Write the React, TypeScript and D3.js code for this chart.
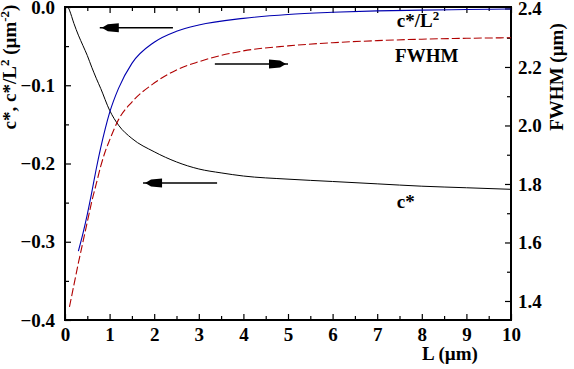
import * as d3 from 'd3';
import { useEffect, useRef } from 'react';

// L in µm
const lBlack = [0.07, 0.1, 0.2, 0.3, 0.4, 0.5, 0.6, 0.7, 0.8, 1.0, 1.2, 1.5, 2.0, 2.5, 3.0, 3.5, 4, 5, 6, 7, 8, 9, 10];
const cStar = [0, -0.004, -0.021, -0.036, -0.049, -0.062, -0.077, -0.091, -0.104, -0.132, -0.151, -0.168, -0.185, -0.198, -0.207, -0.212, -0.216, -0.220, -0.223, -0.226, -0.229, -0.231, -0.233];

const lBlue = [0.3, 0.4, 0.5, 0.6, 0.7, 0.8, 0.9, 1.0, 1.2, 1.5, 2.0, 2.5, 3.0, 4, 5, 6, 7, 8, 9, 10];
const cOverL2 = [-0.312, -0.29, -0.265, -0.237, -0.207, -0.18, -0.156, -0.135, -0.104, -0.072, -0.045, -0.031, -0.023, -0.0145, -0.0095, -0.0068, -0.005, -0.004, -0.0032, -0.0026];

const lRed = [0.1, 0.2, 0.3, 0.4, 0.5, 0.6, 0.7, 0.8, 0.9, 1.0, 1.2, 1.5, 2.0, 2.5, 3.0, 4, 5, 6, 7, 8, 9, 10];
const fwhm = [1.38, 1.455, 1.53, 1.6, 1.67, 1.74, 1.8, 1.86, 1.91, 1.95, 2.02, 2.08, 2.145, 2.19, 2.218, 2.255, 2.272, 2.283, 2.29, 2.295, 2.298, 2.3];

const xTicks = [0, 1, 2, 3, 4, 5, 6, 7, 8, 9, 10];
const leftTicks = [0, -0.1, -0.2, -0.3, -0.4];
const rightTicks = [1.4, 1.6, 1.8, 2.0, 2.2, 2.4];

// arrows: [x0, x1, y, axis, direction]
const arrows: [number, number, number, 'L' | 'R', number][] = [
  [0.78, 2.42, -0.0265, 'L', -1],
  [3.36, 5.0, 2.21, 'R', 1],
  [1.75, 3.41, -0.225, 'L', -1],
];

const W = 574;
const H = 369;
const FONT = '"Liberation Serif", "Times New Roman", serif';

const App = () => {
  const ref = useRef<SVGSVGElement>(null);

  useEffect(() => {
    const svg = d3.select(ref.current);
    svg.selectAll('*').remove();

    const left = 65, right = 511, top = 7, bottom = 320;
    const x = d3.scaleLinear().domain([0, 10]).range([left, right]);
    const yL = d3.scaleLinear().domain([-0.4, 0]).range([bottom, top]);
    const yR = d3.scaleLinear().domain([1.335, 2.405]).range([bottom, top]);

    const styleAxis = (g: any) => {
      g.select('.domain').remove();
      g.selectAll('line').attr('stroke', '#000').attr('stroke-width', 1.2);
      g.selectAll('text')
        .attr('font-family', FONT)
        .attr('font-size', 19)
        .attr('font-weight', 'bold')
        .attr('fill', '#000');
    };

    const halves = (a: number, b: number, step: number) => d3.range(a, b + 1e-9, step);

    // bottom
    svg.append('g').attr('transform', `translate(0,${bottom})`)
      .call(d3.axisBottom(x).tickValues(xTicks).tickSizeInner(-6).tickSizeOuter(0).tickPadding(8).tickFormat(d3.format('d')))
      .call(styleAxis);
    svg.append('g').attr('transform', `translate(0,${bottom})`)
      .call(d3.axisBottom(x).tickValues(halves(0.5, 9.5, 1)).tickSizeInner(-4).tickSizeOuter(0).tickFormat(() => ''))
      .call(styleAxis);
    // top
    svg.append('g').attr('transform', `translate(0,${top})`)
      .call(d3.axisTop(x).tickValues(xTicks).tickSizeInner(-6).tickSizeOuter(0).tickFormat(() => ''))
      .call(styleAxis);
    svg.append('g').attr('transform', `translate(0,${top})`)
      .call(d3.axisTop(x).tickValues(halves(0.5, 9.5, 1)).tickSizeInner(-4).tickSizeOuter(0).tickFormat(() => ''))
      .call(styleAxis);
    // left
    svg.append('g').attr('transform', `translate(${left},0)`)
      .call(d3.axisLeft(yL).tickValues(leftTicks).tickSizeInner(-6).tickSizeOuter(0).tickPadding(10).tickFormat(d3.format('.1f')))
      .call(styleAxis);
    svg.append('g').attr('transform', `translate(${left},0)`)
      .call(d3.axisLeft(yL).tickValues(halves(-0.35, -0.05, 0.1)).tickSizeInner(-4).tickSizeOuter(0).tickFormat(() => ''))
      .call(styleAxis);
    // right
    svg.append('g').attr('transform', `translate(${right},0)`)
      .call(d3.axisRight(yR).tickValues(rightTicks).tickSizeInner(-6).tickSizeOuter(0).tickPadding(7).tickFormat(d3.format('.1f')))
      .call(styleAxis);
    svg.append('g').attr('transform', `translate(${right},0)`)
      .call(d3.axisRight(yR).tickValues(halves(1.5, 2.3, 0.2)).tickSizeInner(-4).tickSizeOuter(0).tickFormat(() => ''))
      .call(styleAxis);

    // frame
    svg.append('rect')
      .attr('x', left).attr('y', top)
      .attr('width', right - left).attr('height', bottom - top)
      .attr('fill', 'none').attr('stroke', '#000').attr('stroke-width', 2);

    const lineL = (xs: number[]) => d3.line<number>().x((_, i) => x(xs[i])).y(d => yL(d)).curve(d3.curveMonotoneX);
    const lineR = (xs: number[]) => d3.line<number>().x((_, i) => x(xs[i])).y(d => yR(d)).curve(d3.curveMonotoneX);

    svg.append('path').attr('d', lineL(lBlack)(cStar))
      .attr('fill', 'none').attr('stroke', '#000').attr('stroke-width', 1);
    svg.append('path').attr('d', lineL(lBlue)(cOverL2))
      .attr('fill', 'none').attr('stroke', '#0000b0').attr('stroke-width', 1.1);
    svg.append('path').attr('d', lineR(lRed)(fwhm))
      .attr('fill', 'none').attr('stroke', '#b00000').attr('stroke-width', 1.1)
      .attr('stroke-dasharray', '8,3');

    // arrows
    arrows.forEach(([x0, x1, yv, ax, dir]) => {
      const yy = ax === 'L' ? yL(yv) : yR(yv);
      const a = x(x0), b = x(x1);
      svg.append('line').attr('x1', a).attr('x2', b).attr('y1', yy).attr('y2', yy)
        .attr('stroke', '#000').attr('stroke-width', 1.5);
      const tip = dir < 0 ? a + 2 : b - 2;
      const s = dir < 0 ? 1 : -1;
      const pts = [[tip, yy], [tip + s * 6, yy - 3.5], [tip + s * 17, yy - 4.5], [tip + s * 17, yy + 4.5], [tip + s * 6, yy + 3.5]];
      svg.append('polygon').attr('points', pts.map(p => p.join(',')).join(' ')).attr('fill', '#000');
    });

    const label = (tx: number, ty: number) =>
      svg.append('text').attr('x', tx).attr('y', ty)
        .attr('font-family', FONT).attr('font-size', 19).attr('font-weight', 'bold').attr('fill', '#000');

    const l1 = label(x(7.44), yL(-0.0256));
    l1.append('tspan').text('c*/L');
    l1.append('tspan').attr('font-size', 13).attr('dy', -7).text('2');
    label(x(7.4), yR(2.217)).text('FWHM');
    label(x(7.44), yL(-0.257)).text('c*');

    // axis titles
    label(450, 360).attr('text-anchor', 'middle').text('L (µm)');

    const lt = svg.append('text')
      .attr('transform', 'translate(16,67) rotate(-90)')
      .attr('text-anchor', 'middle')
      .attr('font-family', FONT).attr('font-size', 19).attr('font-weight', 'bold');
    lt.append('tspan').text('c*, c*/L');
    lt.append('tspan').attr('font-size', 13).attr('dy', -7).text('2');
    lt.append('tspan').attr('dy', 7).text(' (µm');
    lt.append('tspan').attr('font-size', 13).attr('dy', -7).text('-2');
    lt.append('tspan').attr('dy', 7).text(')');

    svg.append('text')
      .attr('transform', 'translate(563,77) rotate(-90)')
      .attr('text-anchor', 'middle')
      .attr('font-family', FONT).attr('font-size', 19).attr('font-weight', 'bold')
      .text('FWHM (µm)');
  }, []);

  return (
    <svg ref={ref} width={W} height={H}
      style={{ position: 'absolute', left: 0, top: 0, background: '#fff' }} />
  );
};

export default App;
